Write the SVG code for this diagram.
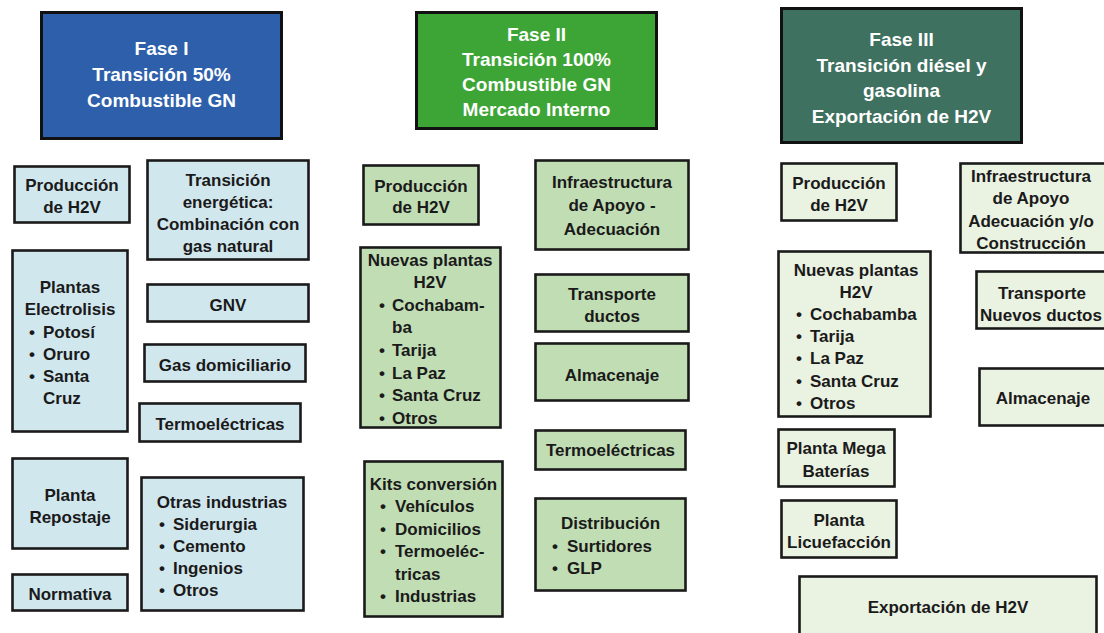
<svg xmlns="http://www.w3.org/2000/svg" width="1104" height="633" viewBox="0 0 1104 633">
<style>
rect.hdr{stroke:#111;stroke-width:3}
rect.bx{stroke:#1a1a1a;stroke-width:2.6}
.b1{fill:#D1E7EE}.b2{fill:#C1DDB4}.b3{fill:#EAF2E2}
text{font-family:"Liberation Sans",Arial,sans-serif;font-weight:bold}
text.h{font-size:19px;fill:#fff;text-anchor:middle}
text.t{font-size:17px;fill:#1a1a1a;text-anchor:middle}
text.l{font-size:17px;fill:#1a1a1a;text-anchor:start}
</style>
<rect width="1104" height="633" fill="#fff"/>

<g id="fase1">
<rect class="hdr" x="41.5" y="12.5" width="240" height="126" fill="#2E5FAA"/>
<text class="h" x="161.5" y="54.5">Fase I</text>
<text class="h" x="161.5" y="81">Transición 50%</text>
<text class="h" x="161.5" y="107">Combustible GN</text>
</g>
<g id="c1-produccion">
<rect class="bx b1" x="14.5" y="166.5" width="115" height="56"/>
<text class="t" x="72" y="191">Producción</text>
<text class="t" x="72" y="213">de H2V</text>
</g>
<g id="c1-transicion">
<rect class="bx b1" x="147.5" y="160.5" width="161" height="99"/>
<text class="t" x="228" y="186">Transición</text>
<text class="t" x="228" y="208">energética:</text>
<text class="t" x="228" y="230">Combinación con</text>
<text class="t" x="228" y="252">gas natural</text>
</g>
<g id="c1-plantas">
<rect class="bx b1" x="12.5" y="250.5" width="115" height="181"/>
<text class="t" x="70" y="293">Plantas</text>
<text class="t" x="70" y="315">Electrolisis</text>
<text class="l" y="338"><tspan x="29">•</tspan><tspan x="43">Potosí</tspan></text>
<text class="l" y="360"><tspan x="29">•</tspan><tspan x="43">Oruro</tspan></text>
<text class="l" y="382"><tspan x="29">•</tspan><tspan x="43">Santa</tspan></text>
<text class="l" x="43" y="404">Cruz</text>
</g>
<g id="c1-gnv">
<rect class="bx b1" x="147.5" y="284.5" width="161" height="37"/>
<text class="t" x="228" y="311">GNV</text>
</g>
<g id="c1-gas">
<rect class="bx b1" x="144.5" y="344.5" width="161" height="37"/>
<text class="t" x="225" y="371">Gas domiciliario</text>
</g>
<g id="c1-termo">
<rect class="bx b1" x="139.5" y="403.5" width="161" height="38"/>
<text class="t" x="220" y="430">Termoeléctricas</text>
</g>
<g id="c1-repostaje">
<rect class="bx b1" x="12.5" y="458.5" width="115" height="90"/>
<text class="t" x="70" y="501">Planta</text>
<text class="t" x="70" y="523">Repostaje</text>
</g>
<g id="c1-normativa">
<rect class="bx b1" x="12.5" y="574.5" width="115" height="36"/>
<text class="t" x="70" y="600">Normativa</text>
</g>
<g id="c1-otras">
<rect class="bx b1" x="141.5" y="477.5" width="162" height="133"/>
<text class="t" x="222" y="508">Otras industrias</text>
<text class="l" y="530"><tspan x="159">•</tspan><tspan x="173">Siderurgia</tspan></text>
<text class="l" y="552"><tspan x="159">•</tspan><tspan x="173">Cemento</tspan></text>
<text class="l" y="574"><tspan x="159">•</tspan><tspan x="173">Ingenios</tspan></text>
<text class="l" y="596"><tspan x="159">•</tspan><tspan x="173">Otros</tspan></text>
</g>

<g id="fase2">
<rect class="hdr" x="416.5" y="12.5" width="240" height="116" fill="#3DA535"/>
<text class="h" x="536.5" y="41">Fase II</text>
<text class="h" x="536.5" y="66">Transición 100%</text>
<text class="h" x="536.5" y="91">Combustible GN</text>
<text class="h" x="536.5" y="116">Mercado Interno</text>
</g>
<g id="c2-produccion">
<rect class="bx b2" x="363.5" y="165.5" width="115" height="59"/>
<text class="t" x="421" y="192">Producción</text>
<text class="t" x="421" y="213">de H2V</text>
</g>
<g id="c2-infra">
<rect class="bx b2" x="535.5" y="160.5" width="153" height="89"/>
<text class="t" x="612" y="188">Infraestructura</text>
<text class="t" x="612" y="211">de Apoyo -</text>
<text class="t" x="612" y="235">Adecuación</text>
</g>
<g id="c2-nuevas">
<rect class="bx b2" x="360.5" y="247.5" width="140" height="180"/>
<text class="t" x="430" y="265.5">Nuevas plantas</text>
<text class="t" x="430" y="288">H2V</text>
<text class="l" y="310.7"><tspan x="379">•</tspan><tspan x="392">Cochabam-</tspan></text>
<text class="l" x="392" y="333.3">ba</text>
<text class="l" y="356"><tspan x="379">•</tspan><tspan x="392">Tarija</tspan></text>
<text class="l" y="378.5"><tspan x="379">•</tspan><tspan x="392">La Paz</tspan></text>
<text class="l" y="401"><tspan x="379">•</tspan><tspan x="392">Santa Cruz</tspan></text>
<text class="l" y="423.7"><tspan x="379">•</tspan><tspan x="392">Otros</tspan></text>
</g>
<g id="c2-transporte">
<rect class="bx b2" x="535.5" y="274.5" width="153" height="57"/>
<text class="t" x="612" y="300">Transporte</text>
<text class="t" x="612" y="322">ductos</text>
</g>
<g id="c2-almacenaje">
<rect class="bx b2" x="535.5" y="343.5" width="153" height="57"/>
<text class="t" x="612" y="381">Almacenaje</text>
</g>
<g id="c2-termo">
<rect class="bx b2" x="535.5" y="430.5" width="150" height="39"/>
<text class="t" x="610.5" y="456">Termoeléctricas</text>
</g>
<g id="c2-kits">
<rect class="bx b2" x="364.5" y="461.5" width="138" height="155"/>
<text class="t" x="433.5" y="490">Kits conversión</text>
<text class="l" y="512.4"><tspan x="380">•</tspan><tspan x="395">Vehículos</tspan></text>
<text class="l" y="534.8"><tspan x="380">•</tspan><tspan x="395">Domicilios</tspan></text>
<text class="l" y="557.2"><tspan x="380">•</tspan><tspan x="395">Termoeléc-</tspan></text>
<text class="l" x="395" y="579.6">tricas</text>
<text class="l" y="602"><tspan x="380">•</tspan><tspan x="395">Industrias</tspan></text>
</g>
<g id="c2-distribucion">
<rect class="bx b2" x="535.5" y="498.5" width="150" height="92"/>
<text class="t" x="610.5" y="529">Distribución</text>
<text class="l" y="552"><tspan x="552">•</tspan><tspan x="567">Surtidores</tspan></text>
<text class="l" y="574"><tspan x="552">•</tspan><tspan x="567">GLP</tspan></text>
</g>

<g id="fase3">
<rect class="hdr" x="781.5" y="8.5" width="240" height="134" fill="#3F7160"/>
<text class="h" x="901.5" y="46">Fase III</text>
<text class="h" x="901.5" y="71.5">Transición diésel y</text>
<text class="h" x="901.5" y="97">gasolina</text>
<text class="h" x="901.5" y="122.5">Exportación de H2V</text>
</g>
<g id="c3-produccion">
<rect class="bx b3" x="781.5" y="163.5" width="115" height="57"/>
<text class="t" x="839" y="189">Producción</text>
<text class="t" x="839" y="211">de H2V</text>
</g>
<g id="c3-infra">
<rect class="bx b3" x="960.5" y="163.5" width="150" height="89"/>
<text class="t" x="1031" y="182">Infraestructura</text>
<text class="t" x="1031" y="204">de Apoyo</text>
<text class="t" x="1031" y="227">Adecuación y/o</text>
<text class="t" x="1031" y="249">Construcción</text>
</g>
<g id="c3-nuevas">
<rect class="bx b3" x="778.5" y="251.5" width="152" height="165"/>
<text class="t" x="856" y="275.5">Nuevas plantas</text>
<text class="t" x="856" y="297.7">H2V</text>
<text class="l" y="319.9"><tspan x="796">•</tspan><tspan x="810">Cochabamba</tspan></text>
<text class="l" y="342.1"><tspan x="796">•</tspan><tspan x="810">Tarija</tspan></text>
<text class="l" y="364.3"><tspan x="796">•</tspan><tspan x="810">La Paz</tspan></text>
<text class="l" y="386.5"><tspan x="796">•</tspan><tspan x="810">Santa Cruz</tspan></text>
<text class="l" y="408.7"><tspan x="796">•</tspan><tspan x="810">Otros</tspan></text>
</g>
<g id="c3-transporte">
<rect class="bx b3" x="976.5" y="271.5" width="140" height="57"/>
<text class="t" x="1042" y="299">Transporte</text>
<text class="t" x="1041" y="321">Nuevos ductos</text>
</g>
<g id="c3-almacenaje">
<rect class="bx b3" x="979.5" y="368.5" width="140" height="57"/>
<text class="t" x="1043" y="404">Almacenaje</text>
</g>
<g id="c3-megabaterias">
<rect class="bx b3" x="778.5" y="429.5" width="116" height="57"/>
<text class="t" x="836" y="454">Planta Mega</text>
<text class="t" x="836" y="477">Baterías</text>
</g>
<g id="c3-licuefaccion">
<rect class="bx b3" x="781.5" y="500.5" width="115" height="57"/>
<text class="t" x="839" y="526">Planta</text>
<text class="t" x="839" y="548">Licuefacción</text>
</g>
<g id="c3-exportacion">
<rect class="bx b3" x="799.5" y="576.5" width="297" height="70"/>
<text class="t" x="948" y="613">Exportación de H2V</text>
</g>
</svg>
